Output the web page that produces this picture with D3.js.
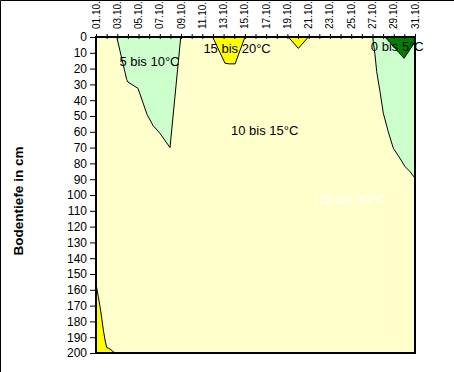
<!DOCTYPE html>
<html>
<head>
<meta charset="utf-8">
<script src="https://cdn.jsdelivr.net/npm/d3@7"></script>
<style>
  body { margin: 0; background: #fff; }
  svg { display: block; }
</style>
</head>
<body>
<svg width="454" height="372"></svg>
<script>
// days of October, labelled every second day
const days = d3.range(1, 32);
const dayLabels = ["01.10.", "03.10.", "05.10.", "07.10.", "09.10.", "11.10.", "13.10.", "15.10.",
    "17.10.", "19.10.", "21.10.", "23.10.", "25.10.", "27.10.", "29.10.", "31.10."];
const depthTicks = d3.range(0, 201, 10);

// contour bands, [day, depth in cm]
const band5to10a = [[2.95, 0], [3.89, 27], [4.0, 28.5], [4.95, 32.5], [5.8, 49], [6.36, 56], [7.02, 61], [7.96, 70], [8.97, 0]];
const band5to10b = [[27.02, 0], [27.24, 11.4], [27.4, 22], [27.71, 34.6], [28.02, 48.3], [28.49, 60], [28.96, 70.4],
    [29.59, 76.8], [30.06, 82], [30.53, 85.2], [31, 89.4], [31, 0]];
const band15to20a = [[11.97, 0], [13.13, 16.6], [13.54, 17], [14.08, 17], [15.01, 0]];
const band15to20b = [[19.09, 0], [20.03, 7.2], [20.97, 0]];
const band15to20c = [[1, 155], [1.07, 159], [1.22, 164.4], [1.38, 170.7], [1.54, 178], [1.69, 185.4], [1.85, 191.8],
    [2.0, 196.4], [2.32, 197.5], [2.63, 199.2], [2.85, 200], [1, 200]];
const band0to5 = [[28.18, 0], [29.97, 13.5], [31, 3], [31, 0]];

const bandLabels = [
    {text: "5 bis 10°C", day: 3.2, depth: 18.4, color: "#000"},
    {text: "15 bis 20°C", day: 11.1, depth: 10, color: "#000"},
    {text: "10 bis 15°C", day: 13.7, depth: 62, color: "#000"},
    {text: "0 bis 5°C", day: 26.85, depth: 9, color: "#000"},
    {text: "25 bis 30°C", day: 21.9, depth: 105.7, color: "#fff"}
];

let svg = d3.select("svg"),
    margin = {top: 37, right: 39, bottom: 19, left: 96},
    width = svg.attr("width") - margin.left - margin.right,
    height = svg.attr("height") - margin.top - margin.bottom,
    g = svg.append("g").attr("transform", "translate(" + margin.left + "," + margin.top + ")");

let x = d3.scaleLinear().domain([1, 31]).range([0, width]),
    y = d3.scaleLinear().domain([0, 200]).range([0, height]);

// outer frame (top and left only)
svg.append("path").attr("d", "M0.5,372V0.5H454").attr("fill", "none").attr("stroke", "#000");

g.append("rect").attr("width", width).attr("height", height).attr("fill", "#ffffcc");

let area = d3.line().x(d => x(d[0])).y(d => y(d[1]));

let bands = [
    {pts: band5to10a, fill: "#ccffcc"},
    {pts: band5to10b, fill: "#ccffcc"},
    {pts: band15to20a, fill: "#ffff00"},
    {pts: band15to20b, fill: "#ffff00"},
    {pts: band15to20c, fill: "#ffff00"},
    {pts: band0to5, fill: "#008000"}
];

g.selectAll(".band")
    .data(bands)
    .enter().append("path")
    .attr("class", "band")
    .attr("d", d => area(d.pts) + "Z")
    .attr("fill", d => d.fill)
    .attr("stroke", "#000")
    .attr("stroke-width", 1);

g.selectAll(".blabel")
    .data(bandLabels)
    .enter().append("text")
    .attr("class", "blabel")
    .attr("x", d => x(d.day))
    .attr("y", d => y(d.depth))
    .attr("fill", d => d.color)
    .attr("font-family", "Liberation Sans, Arial, sans-serif")
    .attr("font-size", 13)
    .text(d => d.text);

// plot frame
g.append("rect").attr("width", width).attr("height", height)
    .attr("fill", "none").attr("stroke", "#000").attr("stroke-width", 2);

// top date axis
let xAxis = g.append("g")
    .call(d3.axisTop(x).tickValues(days).tickSize(3).tickFormat(""));
xAxis.select(".domain").remove();
xAxis.selectAll(".tick line").attr("y2", -3).attr("y1", 2);

g.selectAll(".dlabel")
    .data(dayLabels)
    .enter().append("text")
    .attr("class", "dlabel")
    .attr("transform", (d, i) => "translate(" + (x(1 + i * 2) + 3.5) + ",-8) rotate(-90)")
    .attr("font-family", "Liberation Sans, Arial, sans-serif")
    .attr("font-size", 10)
    .attr("text-anchor", "start")
    .text(d => d);

// depth axis
let yAxis = g.append("g")
    .call(d3.axisLeft(y).tickValues(depthTicks).tickSize(6).tickPadding(3).tickFormat(d3.format("d")));
yAxis.select(".domain").remove();
yAxis.selectAll("text")
    .attr("font-family", "Liberation Sans, Arial, sans-serif")
    .attr("font-size", 12)
    .attr("fill", "#000");

svg.append("text")
    .attr("transform", "translate(23," + (margin.top + height / 2 + 6) + ") rotate(-90)")
    .attr("text-anchor", "middle")
    .attr("font-family", "Liberation Sans, Arial, sans-serif")
    .attr("font-weight", "bold")
    .attr("font-size", 13.5)
    .text("Bodentiefe in cm");
</script>
</body>
</html>
